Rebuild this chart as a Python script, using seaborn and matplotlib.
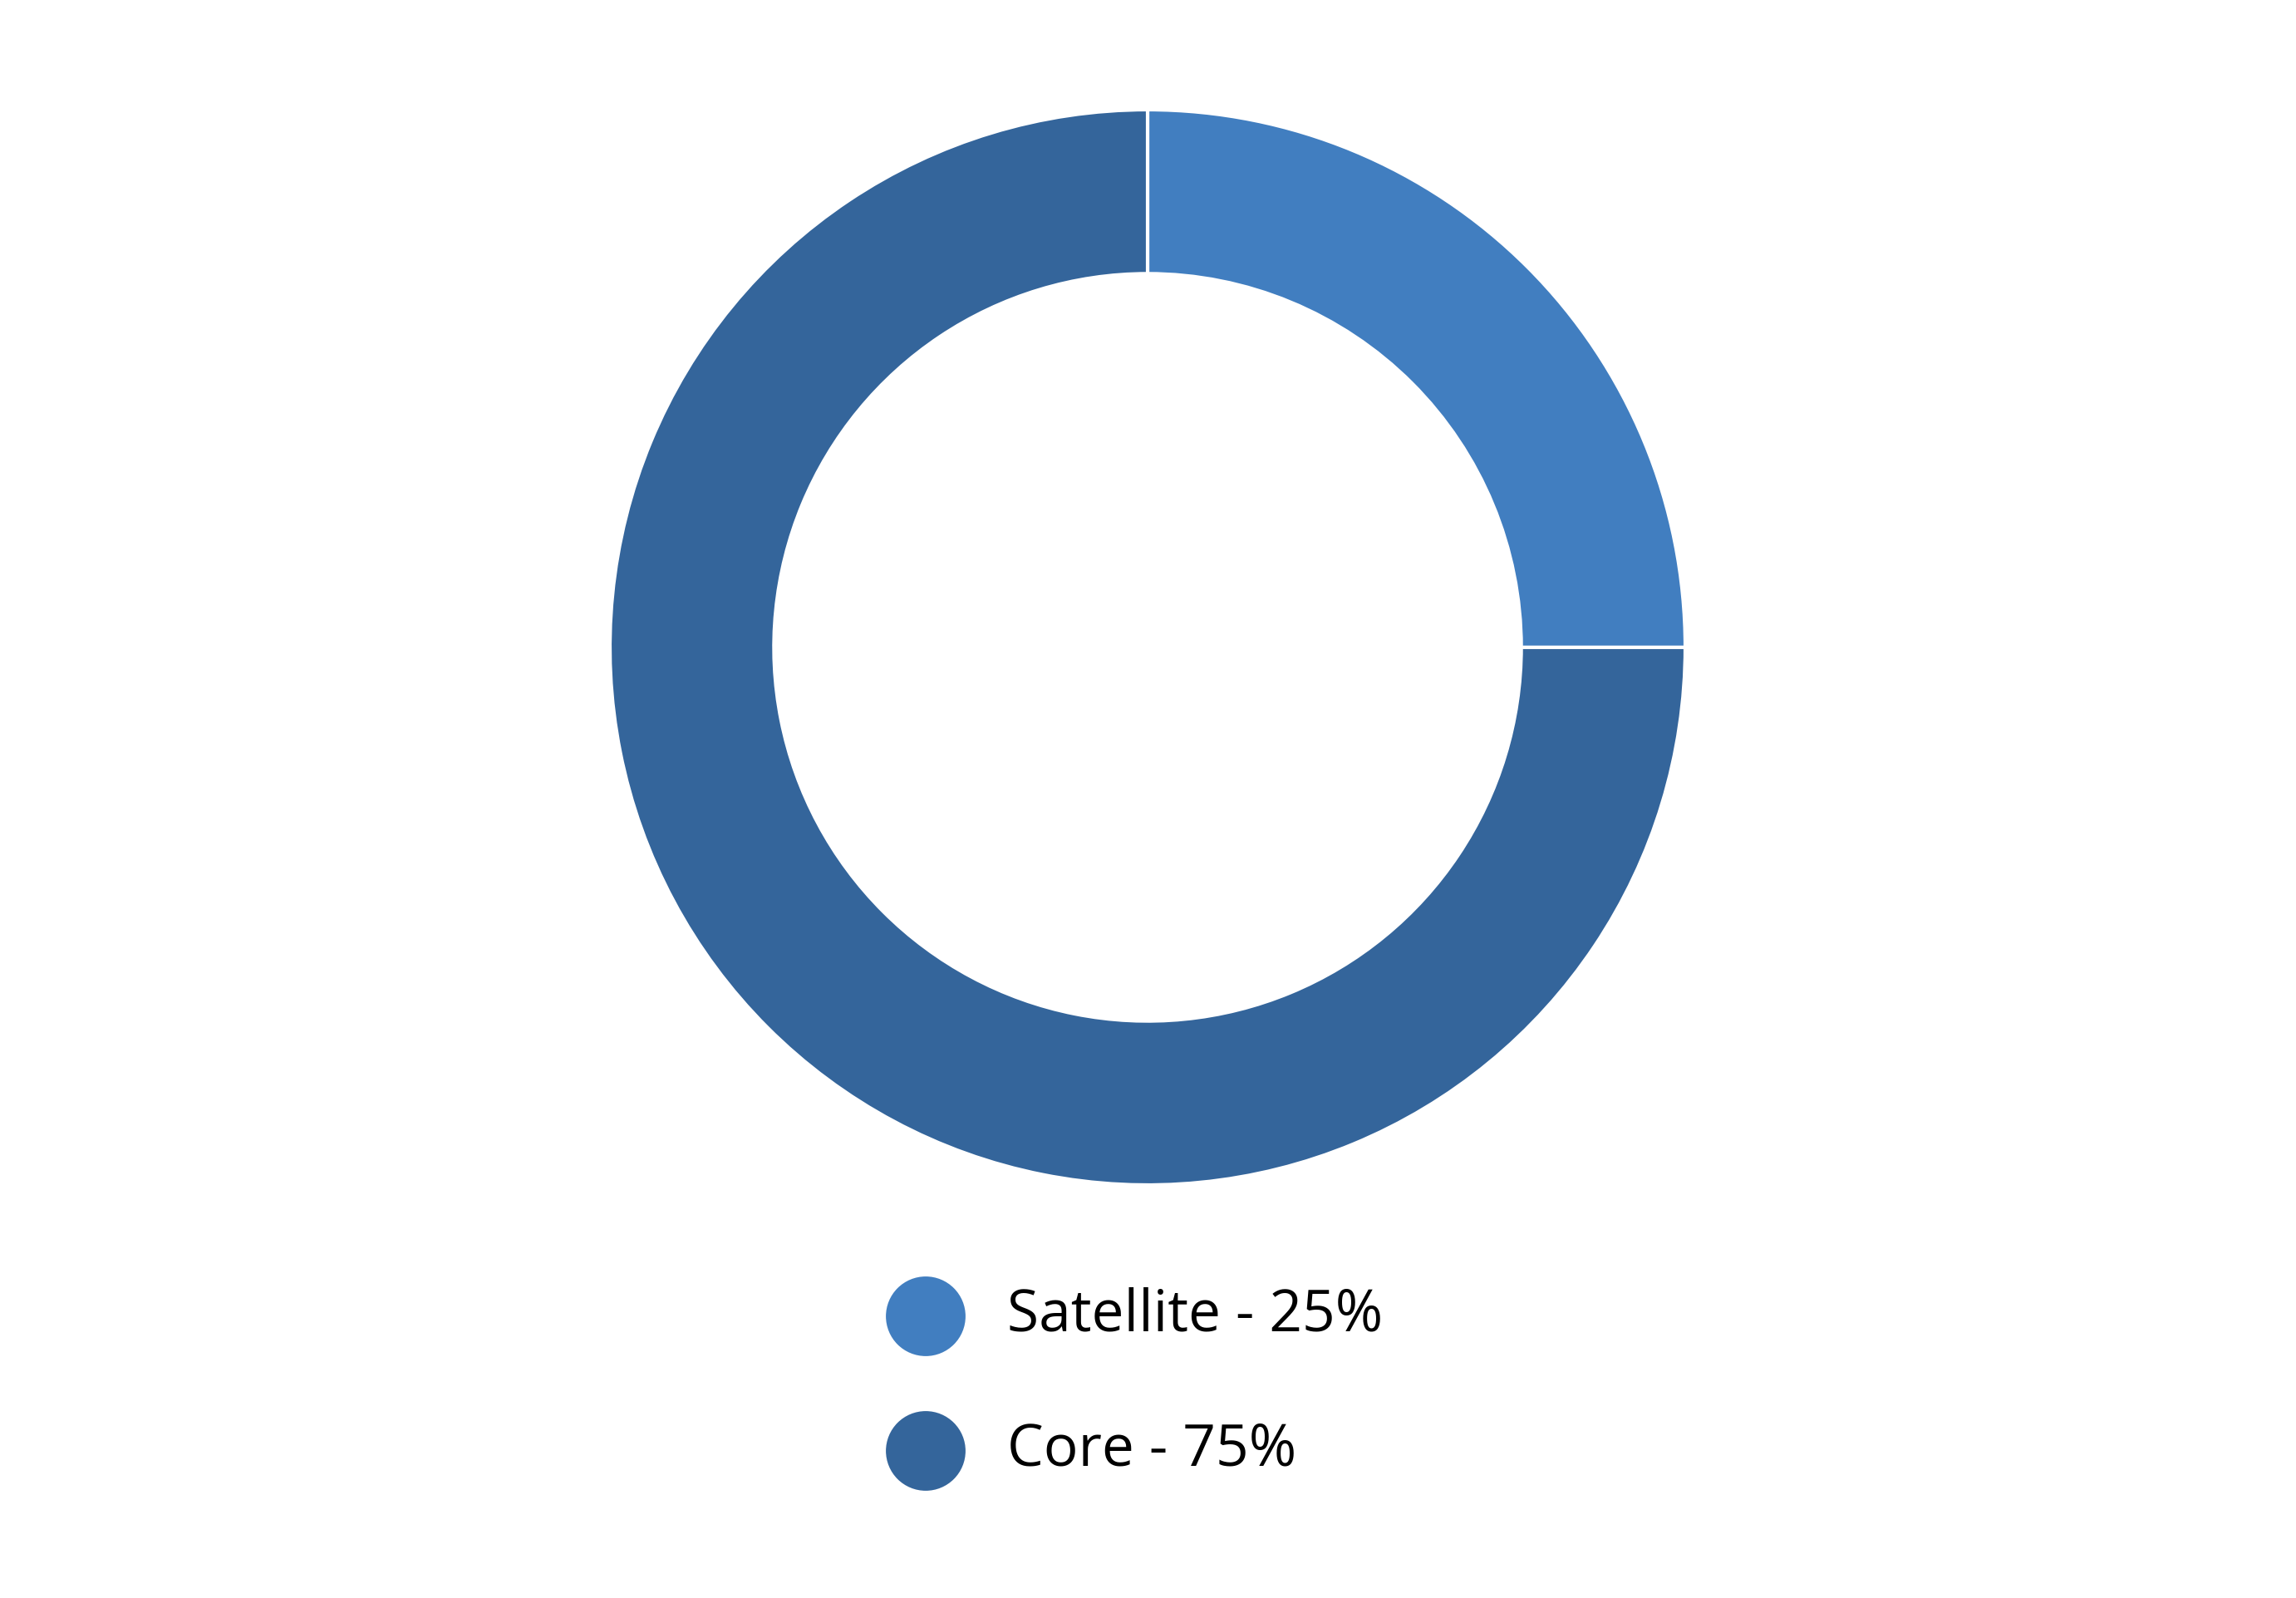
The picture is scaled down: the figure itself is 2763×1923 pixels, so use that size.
import matplotlib
matplotlib.use("Agg")
import matplotlib.pyplot as plt
import seaborn as sns

# data
labels = ['Satellite', 'Core']
shares = [25, 75]
colors = ['#417EC0', '#34659B']

sns.set_theme(style="white")
plt.rcParams['font.family'] = ['Open Sans', 'DejaVu Sans']

W, H = 2763, 1923
fig = plt.figure(figsize=(W / 100, H / 100), dpi=100)
fig.patch.set_facecolor('white')

# donut
R = 647
cx, cy = 1381, H - 779
ax = fig.add_axes([(cx - R) / W, (cy - R) / H, 2 * R / W, 2 * R / H])
ax.pie(shares, colors=colors, startangle=90, counterclock=False, radius=1,
       wedgeprops=dict(width=0.305, edgecolor='white', linewidth=3))
ax.set_xlim(-1, 1)
ax.set_ylim(-1, 1)
ax.set_aspect('equal')
ax.axis('off')

# legend drawn in pixel space
lax = fig.add_axes([0, 0, 1, 1])
lax.set_xlim(0, W)
lax.set_ylim(0, H)
lax.axis('off')
rows_y = [H - 1584, H - 1746]
for lab, val, col, y in zip(labels, shares, colors, rows_y):
    lax.scatter([1114], [y], s=4760, color=col, edgecolors='none')
    lax.text(1212, y, f'{lab} - {val}%', fontsize=50, va='center', ha='left', color='black')

fig.savefig('out.png', dpi=100, facecolor='white')
